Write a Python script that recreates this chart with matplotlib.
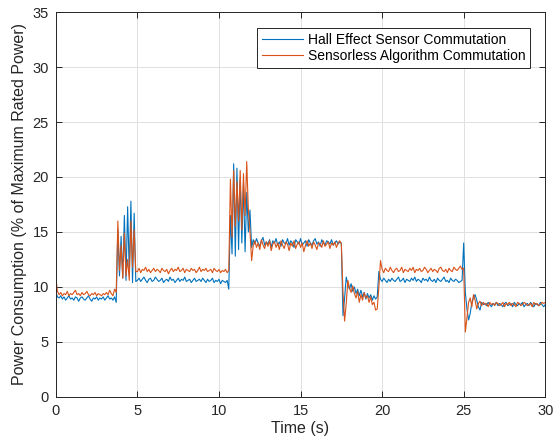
import numpy as np
import matplotlib
matplotlib.use("Agg")
import matplotlib.pyplot as plt

# ===== measured power, % of rated, sampled every ~0.1 s =====
# each segment: (start time, end time) and the samples inside it
seg_bounds = [(0.0, 3.8), (3.8, 5.0), (5.0, 10.7), (10.7, 12.0),
              (12.0, 17.6), (17.6, 19.8), (19.8, 25.0), (25.0, 30.0)]

hall_segments = [
    [9.5, 9.1, 9.0, 9.2, 8.9, 9.1, 8.8, 9.0, 9.2, 8.9, 9.0, 8.8, 9.1, 9.0, 8.7, 9.0, 9.1, 8.9, 8.8,
     9.0, 9.2, 8.9, 8.7, 9.0, 8.9, 9.1, 8.8, 9.0, 8.9, 9.1, 8.8, 9.0, 9.2, 8.9, 9.0, 8.8, 9.1, 8.6],
    [15.2, 11.0, 14.6, 10.8, 16.5, 10.6, 17.3, 11.2, 17.8, 10.4, 16.7, 10.5],
    [10.6, 10.8, 10.5, 10.7, 10.9, 10.6, 10.4, 10.7, 10.8, 10.5, 10.6, 10.9, 10.7, 10.5, 10.6,
     10.8, 10.4, 10.6, 10.7, 10.5, 10.9, 10.6, 10.7, 10.4, 10.6, 10.8, 10.5, 10.7, 10.6, 10.9,
     10.5, 10.6, 10.7, 10.4, 10.6, 10.8, 10.5, 10.6, 10.7, 10.5, 10.8, 10.6, 10.4, 10.7, 10.5,
     10.6, 10.8, 10.4, 10.6, 10.5, 10.7, 10.3, 10.6, 10.5, 10.4, 10.6, 9.8],
    [16.5, 13.0, 21.2, 12.8, 20.8, 13.4, 19.8, 14.0, 19.4, 13.2, 18.6, 15.0, 17.0],
    [13.6, 14.3, 13.9, 14.4, 14.0, 13.7, 14.2, 14.5, 13.8, 14.1, 13.9, 14.3, 13.6, 14.2, 14.0,
     14.4, 13.8, 14.1, 13.7, 14.3, 14.0, 13.9, 14.4, 13.8, 14.2, 14.0, 13.6, 14.3, 14.1, 13.9,
     14.4, 13.8, 14.0, 14.2, 13.7, 14.3, 14.0, 13.8, 14.2, 14.4, 13.9, 14.1, 13.7, 14.3, 14.0,
     13.8, 14.2, 14.1, 13.9, 14.3, 13.8, 14.0, 14.2, 13.9, 14.1, 14.0],
    [7.4, 9.0, 10.9, 10.2, 9.8, 10.3, 9.6, 10.0, 9.4, 9.8, 9.2, 9.7, 9.1, 9.5, 8.9, 9.4, 9.0,
     9.3, 8.8, 9.2, 8.9, 9.1],
    [11.4, 10.7, 10.5, 10.8, 10.6, 10.4, 10.7, 10.5, 10.8, 10.6, 10.5, 10.7, 10.9, 10.5, 10.6,
     10.8, 10.4, 10.7, 10.6, 10.5, 10.8, 10.6, 10.9, 10.5, 10.7, 10.6, 10.4, 10.8, 10.6, 10.7,
     10.5, 10.9, 10.6, 10.5, 10.7, 10.4, 10.8, 10.6, 10.5, 10.7, 10.9, 10.5, 10.6, 10.4, 10.8,
     10.6, 10.5, 10.7, 10.6, 10.4, 10.5, 10.6],
    [14.0, 9.5, 8.0, 7.0, 7.6, 8.6, 9.0, 9.3, 8.8, 8.2, 7.9, 8.6, 8.4, 8.5, 8.3, 8.6, 8.4, 8.2,
     8.5, 8.4, 8.6, 8.3, 8.5, 8.4, 8.2, 8.5, 8.6, 8.3, 8.4, 8.5, 8.2, 8.6, 8.4, 8.3, 8.5, 8.4,
     8.6, 8.2, 8.4, 8.5, 8.3, 8.6, 8.4, 8.2, 8.5, 8.4, 8.3, 8.6, 8.4, 8.2, 8.4],
]

sensorless_segments = [
    [10.8, 9.6, 9.3, 9.5, 9.2, 9.4, 9.3, 9.6, 9.2, 9.4, 9.3, 9.5, 9.7, 9.3, 9.4, 9.2, 9.5, 9.3,
     9.4, 9.6, 9.3, 9.2, 9.4, 9.3, 9.5, 9.2, 9.4, 9.3, 9.2, 9.4, 9.3, 9.5, 9.3, 9.7, 9.4, 9.2,
     9.8, 9.5],
    [16.0, 11.5, 13.8, 10.8, 14.9, 11.0, 12.5, 10.6, 16.0, 11.8, 15.2, 11.4],
    [11.4, 11.7, 11.3, 11.6, 11.5, 11.8, 11.4, 11.6, 11.3, 11.5, 11.7, 11.4, 11.6, 11.5, 11.3,
     11.7, 11.5, 11.4, 11.6, 11.2, 11.5, 11.7, 11.4, 11.6, 11.5, 11.8, 11.4, 11.5, 11.7, 11.3,
     11.6, 11.5, 11.4, 11.7, 11.5, 11.6, 11.3, 11.5, 11.8, 11.4, 11.6, 11.5, 11.7, 11.4, 11.5,
     11.6, 11.3, 11.7, 11.5, 11.4, 11.6, 11.3, 11.5, 11.4, 11.6, 11.3, 11.5],
    [19.8, 14.5, 20.6, 15.5, 19.6, 16.0, 20.6, 15.2, 20.3, 16.5, 21.4, 17.0, 15.0],
    [12.4, 13.8, 14.2, 13.6, 14.0, 13.4, 14.3, 13.8, 13.5, 14.1, 13.7, 14.2, 13.3, 13.9, 14.1,
     13.6, 14.0, 13.4, 14.2, 13.8, 13.5, 14.1, 13.9, 13.3, 14.0, 13.7, 14.2, 13.5, 13.9, 14.1,
     13.6, 14.0, 13.2, 13.8, 14.2, 13.7, 14.0, 13.5, 14.1, 13.8, 13.4, 14.0, 13.9, 13.6, 14.2,
     13.7, 13.9, 14.1, 13.5, 14.0, 13.8, 14.1, 13.6, 14.0, 14.2, 13.9],
    [9.5, 6.9, 8.5, 10.6, 9.9, 9.5, 10.1, 9.4, 9.0, 9.6, 8.6, 9.3, 8.8, 9.5, 9.0, 9.2, 8.6,
     9.1, 8.4, 8.6, 7.9, 8.0],
    [10.0, 12.4, 11.6, 11.3, 11.7, 11.5, 11.4, 11.8, 11.5, 11.3, 11.6, 11.7, 11.4, 11.5, 11.8,
     11.3, 11.6, 11.5, 11.4, 11.7, 11.5, 11.8, 11.3, 11.6, 11.5, 11.7, 11.4, 11.5, 11.8, 11.6,
     11.3, 11.5, 11.7, 11.4, 11.6, 11.5, 11.3, 11.7, 11.8, 11.5, 11.4, 11.6, 11.3, 11.7, 11.5,
     11.4, 11.8, 11.6, 11.5, 11.7, 11.9, 11.6],
    [11.7, 5.9, 7.2, 8.6, 9.0, 8.2, 9.3, 8.8, 8.0, 8.5, 8.7, 8.3, 8.6, 8.4, 8.5, 8.2, 8.6, 8.4,
     8.5, 8.3, 8.6, 8.5, 8.3, 8.4, 8.6, 8.2, 8.5, 8.4, 8.6, 8.3, 8.5, 8.4, 8.2, 8.6, 8.5, 8.3,
     8.4, 8.6, 8.5, 8.3, 8.4, 8.5, 8.2, 8.6, 8.4, 8.5, 8.3, 8.4, 8.6, 8.5, 8.6],
]

series_labels = ["Hall Effect Sensor Commutation", "Sensorless Algorithm Commutation"]
x_ticks = [0, 5, 10, 15, 20, 25, 30]
y_ticks = [0, 5, 10, 15, 20, 25, 30, 35]


def build(segments):
    # spread each segment's samples evenly over its time window
    t_all, v_all = [], []
    last = len(segments) - 1
    for i, ((t0, t1), vals) in enumerate(zip(seg_bounds, segments)):
        t_all.append(np.linspace(t0, t1, len(vals), endpoint=(i == last)))
        v_all.append(np.asarray(vals, dtype=float))
    return np.concatenate(t_all), np.concatenate(v_all)


t_hall, p_hall = build(hall_segments)
t_sl, p_sl = build(sensorless_segments)

# ===== plot =====
plt.rcParams['font.family'] = ['Liberation Sans', 'DejaVu Sans']
dark = '#262626'

fig = plt.figure(figsize=(5.53, 4.46), dpi=100)
ax = fig.add_axes([0.101, 0.110, 0.885, 0.863])

ax.plot(t_hall, p_hall, color='#0072BD', lw=0.8, label=series_labels[0])
ax.plot(t_sl, p_sl, color='#D95319', lw=0.8, label=series_labels[1])

ax.set_xlim(0, 30)
ax.set_ylim(0, 35)
ax.set_xticks(x_ticks)
ax.set_yticks(y_ticks)
ax.grid(True, color='#e0e0e0', lw=0.7)
ax.set_axisbelow(True)
ax.tick_params(direction='in', length=4, width=0.7, colors=dark, labelsize=10.5,
               top=True, right=True, labeltop=False, labelright=False, pad=5)
for s in ax.spines.values():
    s.set_color(dark)
    s.set_linewidth(0.7)

ax.set_xlabel('Time (s)', fontsize=11.5, color=dark, labelpad=2)
ax.set_ylabel('Power Consumption (% of Maximum Rated Power)', fontsize=11.5, color=dark, labelpad=4)

leg = ax.legend(loc='upper right', bbox_to_anchor=(0.969, 0.958), borderaxespad=0,
                fontsize=10, handlelength=3.0, handletextpad=0.3, borderpad=0.35,
                labelspacing=0.15, fancybox=False, framealpha=1, edgecolor=dark)
leg.get_frame().set_linewidth(0.7)

fig.savefig('out.png', dpi=100)
